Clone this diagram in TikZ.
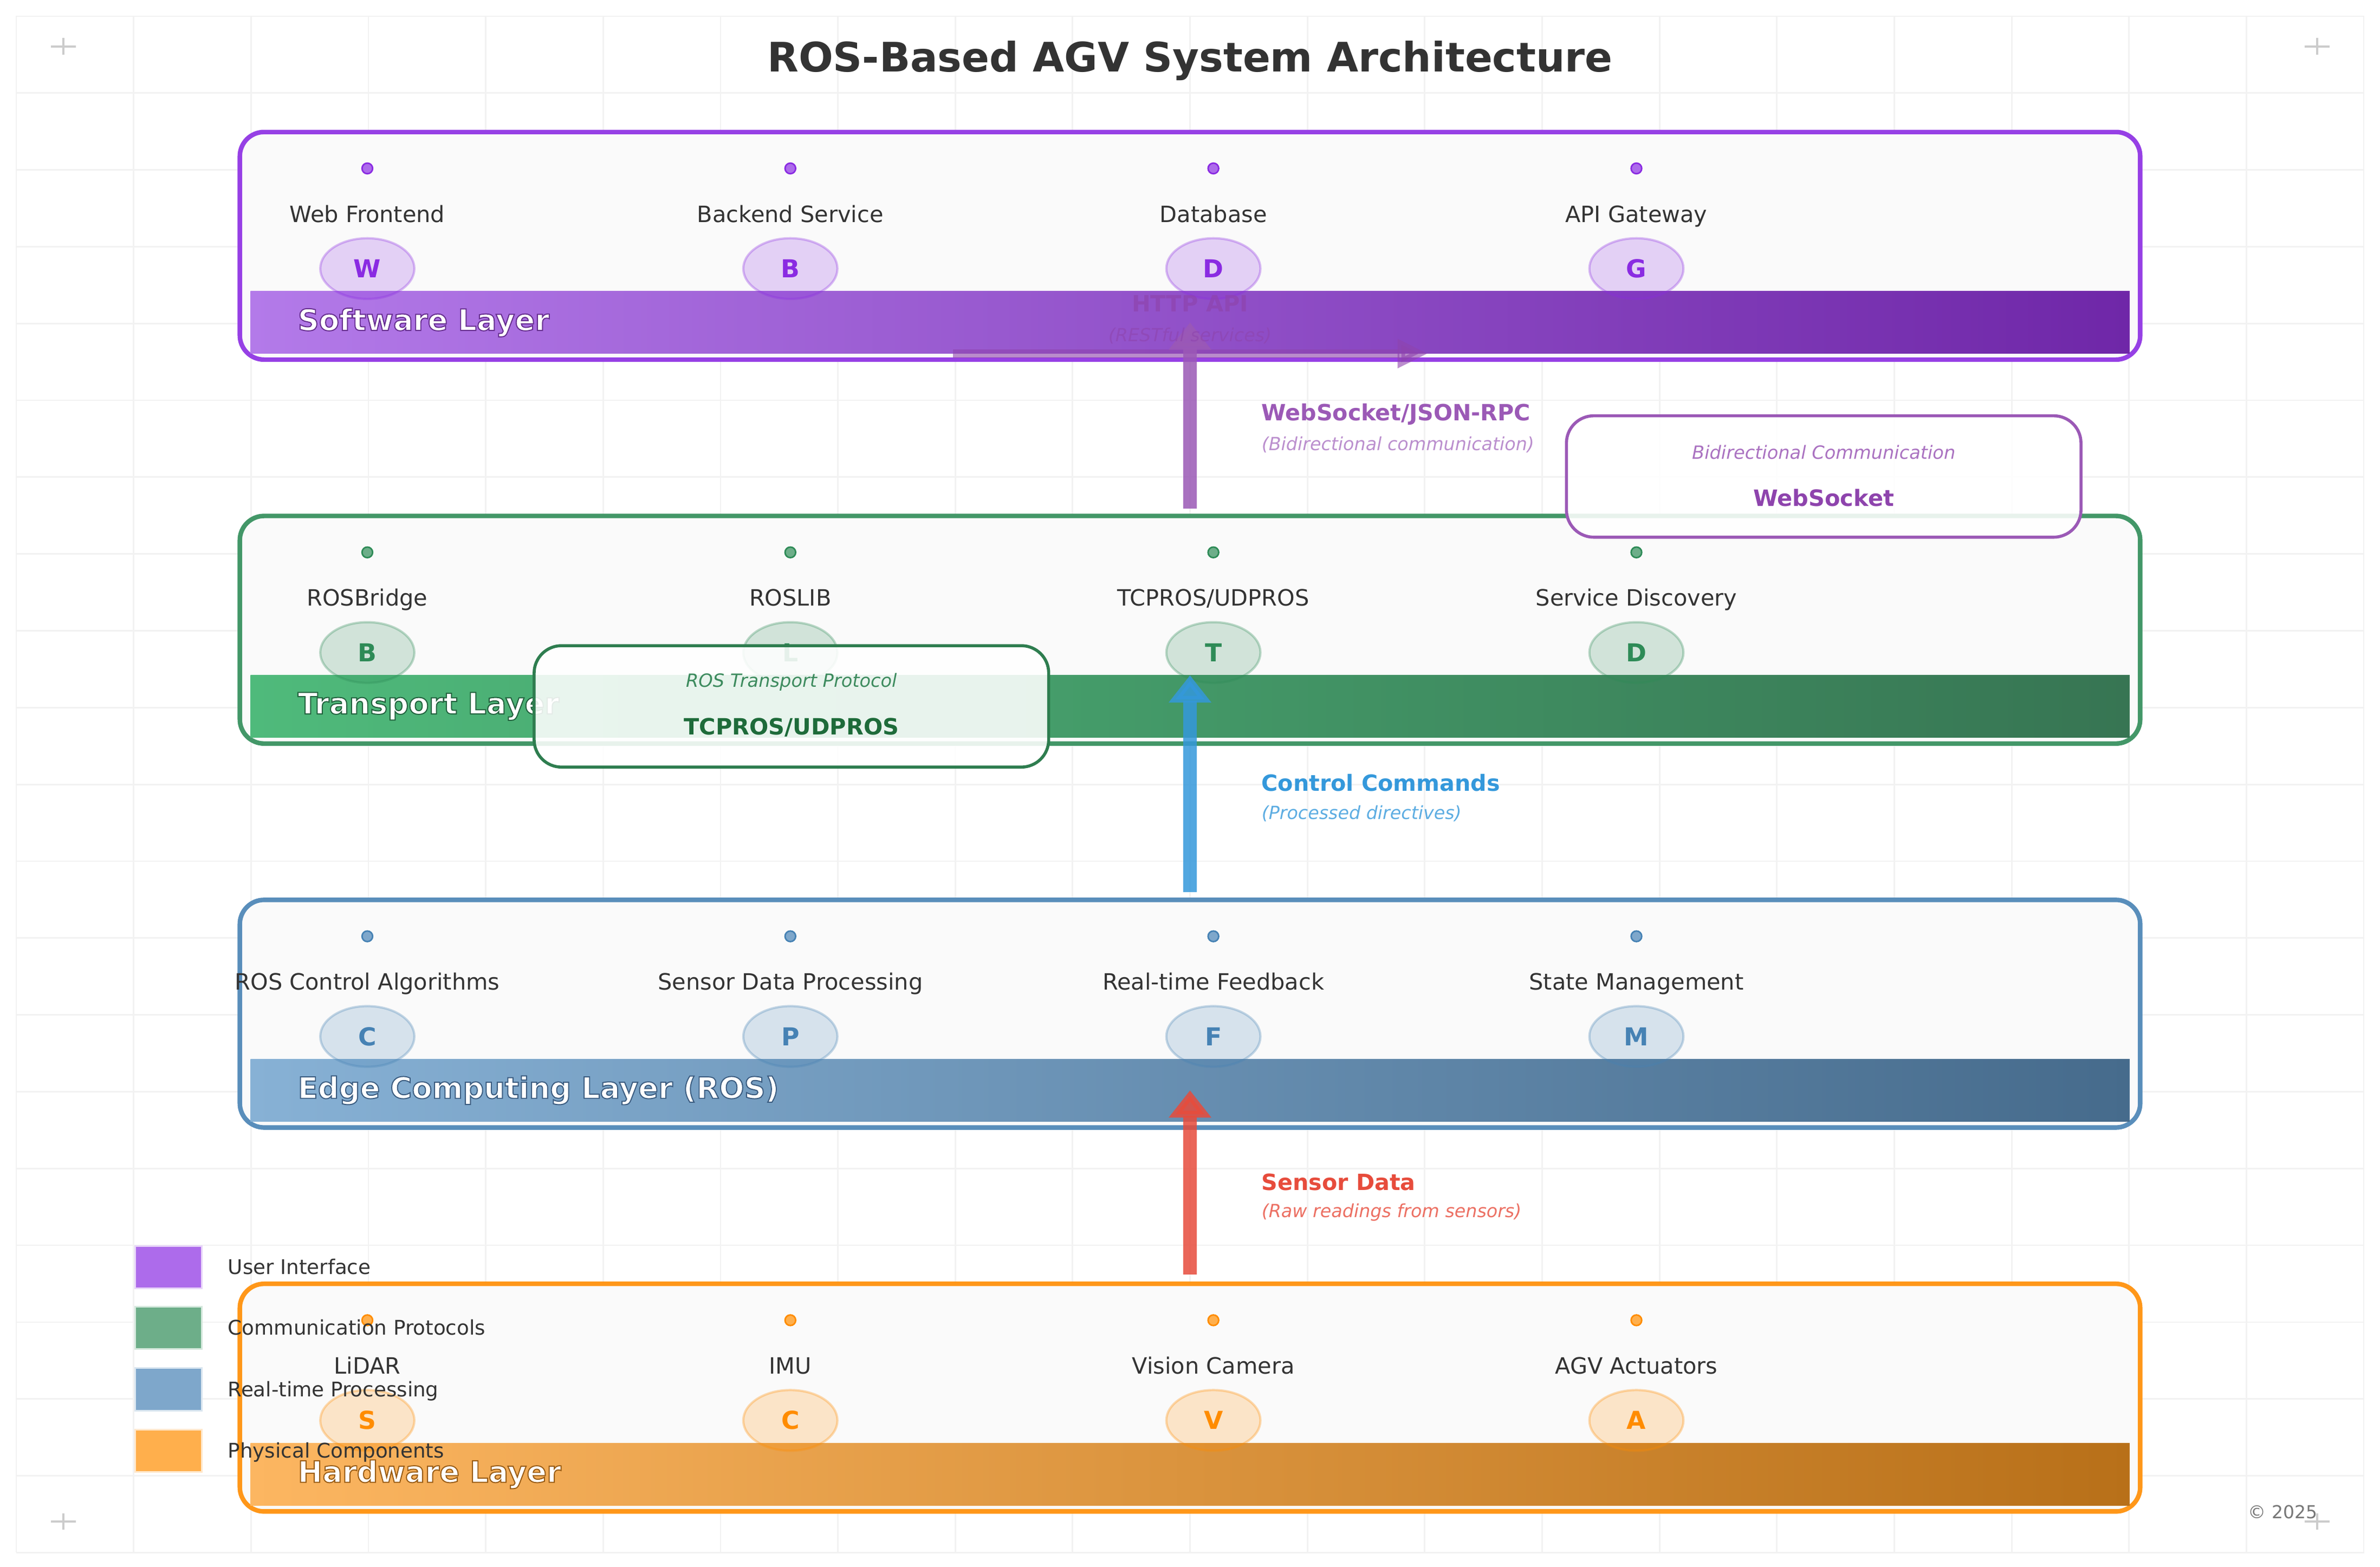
\documentclass[tikz,border=0pt]{standalone}
\usepackage{fontspec}
\setmainfont{DejaVu Sans}
\usepackage{xcolor}
\usepackage{tikz}
\usetikzlibrary{shapes,arrows.meta,positioning,calc}

% Layer colours
\definecolor{swc}{HTML}{8A2BE2}
\definecolor{trc}{HTML}{2E8B57}
\definecolor{edc}{HTML}{4682B4}
\definecolor{hwc}{HTML}{FF8C00}
\definecolor{swl}{HTML}{B37AE9}
\definecolor{swr}{HTML}{6F27A8}
\definecolor{trl}{HTML}{4FBA7B}
\definecolor{trr}{HTML}{377553}
\definecolor{edl}{HTML}{87B1D5}
\definecolor{edr}{HTML}{466B8C}
\definecolor{hwl}{HTML}{FCB661}
\definecolor{hwr}{HTML}{B87019}
% Flow colours
\definecolor{wsc}{HTML}{9B59B6}
\definecolor{wsn}{HTML}{BB8FCE}
\definecolor{ccc}{HTML}{3498DB}
\definecolor{ccn}{HTML}{5DADE2}
\definecolor{sdc}{HTML}{E74C3C}
\definecolor{sdn}{HTML}{EC7063}
\definecolor{http}{HTML}{8E44AD}
\definecolor{calg}{HTML}{2E7D4F}
\definecolor{calgn}{HTML}{3D8B5E}
\definecolor{calgt}{HTML}{1E6B3A}
\definecolor{ink}{HTML}{333333}
\definecolor{panel}{HTML}{FAFAFA}
\definecolor{gridc}{HTML}{F2F2F2}
\definecolor{crossc}{HTML}{CCCCCC}
\definecolor{fine}{HTML}{777777}

% white layer name with a dark rim (stroke colour as r g b)
\newcommand{\layertitle}[2]{\special{pdf:literal direct 2 Tr 0.7 w #1 RG}#2\special{pdf:literal direct 0 Tr}}

\begin{document}
\begin{tikzpicture}[x=1pt, y=1pt, node distance=278.7pt]

% Define block styles
\tikzstyle{layer} = [draw, rectangle, line width=3pt, rounded corners=16pt, fill=panel, minimum width=1252pt, minimum height=150pt, inner sep=0pt, outer sep=0pt]
\tikzstyle{bar} = [rectangle, minimum width=1238pt, minimum height=41pt, inner sep=0pt, outer sep=0pt]
\tikzstyle{bartext} = [anchor=west, inner sep=0pt, text=white, font=\fontsize{19.4}{23}\selectfont\bfseries]
\tikzstyle{dot} = [draw, circle, line width=1pt, inner sep=0pt, minimum size=7pt]
\tikzstyle{item} = [inner sep=0pt, text height=10.8pt, text depth=0pt, text=ink, font=\fontsize{14.8}{17}\selectfont]
\tikzstyle{badge} = [draw, ellipse, line width=1.5pt, inner sep=0pt, minimum width=62pt, minimum height=40pt, fill opacity=0.2, draw opacity=0.3, text opacity=1, font=\fontsize{16.3}{19}\selectfont\bfseries]
\tikzstyle{flow} = [line width=9pt, opacity=0.85, -{Triangle[width=27pt,length=18pt]}]
\tikzstyle{httpflow} = [line width=5.7pt, draw=http, opacity=0.6, -{Triangle[width=18pt,length=20pt]}]
\tikzstyle{flowlabel} = [anchor=west, inner sep=0pt, font=\fontsize{14.7}{18}\selectfont\bfseries]
\tikzstyle{flownote} = [anchor=west, inner sep=0pt, font=\fontsize{11.9}{14}\selectfont\itshape]
\tikzstyle{callout} = [draw, rectangle, line width=2pt, rounded corners=18pt, fill=white, fill opacity=0.88, minimum width=339pt, minimum height=80pt]
\tikzstyle{calloutnote} = [inner sep=0pt, font=\fontsize{12}{14}\selectfont\itshape]
\tikzstyle{callouttitle} = [inner sep=0pt, font=\fontsize{14.8}{17}\selectfont\bfseries]
\tikzstyle{legbox} = [draw, rectangle, line width=1pt, minimum width=44pt, minimum height=28pt]
\tikzstyle{legtext} = [anchor=west, inner sep=0pt, text height=9.6pt, text depth=0pt, text=ink, font=\fontsize{13.3}{16}\selectfont]
\tikzstyle{gridline} = [draw=gridc, line width=1pt]
\tikzstyle{crossline} = [draw=crossc, line width=1.5pt]

% Background
\fill [white] (0,0) rectangle (1568,1032.6);
\useasboundingbox (0,0) rectangle (1568,1032.6);
\begin{scope}[shift={(10.7,9.5)}]
\draw [gridline, xstep=77.33pt, ystep=50.62pt] (0,0) grid (1546.8,1012.6);
\end{scope}
\draw [crossline] (41.7,1002) +(-8.2,0) -- +(8.2,0) +(0,-5.5) -- +(0,5.5);
\draw [crossline] (1526.6,1002) +(-8.2,0) -- +(8.2,0) +(0,-5.5) -- +(0,5.5);
\draw [crossline] (41.7,30) +(-8.2,0) -- +(8.2,0) +(0,-5.5) -- +(0,5.5);
\draw [crossline] (1526.6,30) +(-8.2,0) -- +(8.2,0) +(0,-5.5) -- +(0,5.5);

\node [text=ink, font=\fontsize{26.8}{31}\selectfont\bfseries] (title) at (784,992.6) {ROS-Based AGV System Architecture};

% Software layer
\node [layer, draw=swc!90] (swbox) at (784,870.6) {};
\node [bar, left color=swl, right color=swr] (swbar) at (784,820.1) {};
\node [dot, fill=swc!70, draw=swc] (swd1) at (242,921.6) {};
\node [dot, fill=swc!70, draw=swc, right of=swd1] (swd2) {};
\node [dot, fill=swc!70, draw=swc, right of=swd2] (swd3) {};
\node [dot, fill=swc!70, draw=swc, right of=swd3] (swd4) {};
\node [item] (sw1) at (242,891.6) {Web Frontend};
\node [item, right of=sw1] (sw2) {Backend Service};
\node [item, right of=sw2] (sw3) {Database};
\node [item, right of=sw3] (sw4) {API Gateway};
\node [badge, fill=swc, draw=swc, text=swc] (swb1) at (242,855.6) {W};
\node [badge, fill=swc, draw=swc, text=swc, right of=swb1] (swb2) {B};
\node [badge, fill=swc, draw=swc, text=swc, right of=swb2] (swb3) {D};
\node [badge, fill=swc, draw=swc, text=swc, right of=swb3] (swb4) {G};
\node [bartext] (swname) at (196,820.1) {\layertitle{0.4 0.18 0.56}{Software Layer}};

% Transport layer
\node [layer, draw=trc!90] (trbox) at (784,617.6) {};
\node [bar, left color=trl, right color=trr] (trbar) at (784,567.1) {};
\node [dot, fill=trc!70, draw=trc] (trd1) at (242,668.6) {};
\node [dot, fill=trc!70, draw=trc, right of=trd1] (trd2) {};
\node [dot, fill=trc!70, draw=trc, right of=trd2] (trd3) {};
\node [dot, fill=trc!70, draw=trc, right of=trd3] (trd4) {};
\node [item] (tr1) at (242,638.6) {ROSBridge};
\node [item, right of=tr1] (tr2) {ROSLIB};
\node [item, right of=tr2] (tr3) {TCPROS/UDPROS};
\node [item, right of=tr3] (tr4) {Service Discovery};
\node [badge, fill=trc, draw=trc, text=trc] (trb1) at (242,602.6) {B};
\node [badge, fill=trc, draw=trc, text=trc, right of=trb1] (trb2) {L};
\node [badge, fill=trc, draw=trc, text=trc, right of=trb2] (trb3) {T};
\node [badge, fill=trc, draw=trc, text=trc, right of=trb3] (trb4) {D};
\node [bartext] (trname) at (196,567.1) {\layertitle{0.13 0.38 0.24}{Transport Layer}};

% Edge computing layer
\node [layer, draw=edc!90] (edbox) at (784,364.6) {};
\node [bar, left color=edl, right color=edr] (edbar) at (784,314.1) {};
\node [dot, fill=edc!70, draw=edc] (edd1) at (242,415.6) {};
\node [dot, fill=edc!70, draw=edc, right of=edd1] (edd2) {};
\node [dot, fill=edc!70, draw=edc, right of=edd2] (edd3) {};
\node [dot, fill=edc!70, draw=edc, right of=edd3] (edd4) {};
\node [item] (ed1) at (242,385.6) {ROS Control Algorithms};
\node [item, right of=ed1] (ed2) {Sensor Data Processing};
\node [item, right of=ed2] (ed3) {Real-time Feedback};
\node [item, right of=ed3] (ed4) {State Management};
\node [badge, fill=edc, draw=edc, text=edc] (edb1) at (242,349.6) {C};
\node [badge, fill=edc, draw=edc, text=edc, right of=edb1] (edb2) {P};
\node [badge, fill=edc, draw=edc, text=edc, right of=edb2] (edb3) {F};
\node [badge, fill=edc, draw=edc, text=edc, right of=edb3] (edb4) {M};
\node [bartext] (edname) at (196,314.1) {\layertitle{0.23 0.36 0.5}{Edge Computing Layer (ROS)}};

% Hardware layer
\node [layer, draw=hwc!90] (hwbox) at (784,111.6) {};
\node [bar, left color=hwl, right color=hwr] (hwbar) at (784,61.1) {};
\node [dot, fill=hwc!70, draw=hwc] (hwd1) at (242,162.6) {};
\node [dot, fill=hwc!70, draw=hwc, right of=hwd1] (hwd2) {};
\node [dot, fill=hwc!70, draw=hwc, right of=hwd2] (hwd3) {};
\node [dot, fill=hwc!70, draw=hwc, right of=hwd3] (hwd4) {};
\node [item] (hw1) at (242,132.6) {LiDAR};
\node [item, right of=hw1] (hw2) {IMU};
\node [item, right of=hw2] (hw3) {Vision Camera};
\node [item, right of=hw3] (hw4) {AGV Actuators};
\node [badge, fill=hwc, draw=hwc, text=hwc] (hwb1) at (242,96.6) {S};
\node [badge, fill=hwc, draw=hwc, text=hwc, right of=hwb1] (hwb2) {C};
\node [badge, fill=hwc, draw=hwc, text=hwc, right of=hwb2] (hwb3) {V};
\node [badge, fill=hwc, draw=hwc, text=hwc, right of=hwb3] (hwb4) {A};
\node [bartext] (hwname) at (196,61.1) {\layertitle{0.6 0.36 0.08}{Hardware Layer}};

% Connections
\coordinate (httpa) at ($(swbar.south)+(-156,0)$);
\coordinate (httpb) at ($(swbar.south)+(156.7,0)$);
\draw [httpflow] (httpa) -- (httpb);
\draw [flow, draw=wsc] ($(trbox.north)+(0,5)$) -- (swbar.center);
\draw [flow, draw=ccc] ($(edbox.north)+(0,5)$) -- (trbar.north);
\draw [flow, draw=sdc] ($(hwbox.north)+(0,6)$) -- (edbar.center);
\node [text=http, text opacity=0.7, font=\fontsize{14.8}{17}\selectfont\bfseries] (httplab) at (784,832.7) {HTTP API};
\node [text=http, text opacity=0.6, font=\fontsize{11.9}{14}\selectfont\itshape] (httpnote) at (784,811.3) {(RESTful services)};
\node [flowlabel, text=wsc] (wslab) at (831,759.6) {WebSocket/JSON-RPC};
\node [flownote, text=wsn] (wsnote) at (831,739.6) {(Bidirectional communication)};
\node [flowlabel, text=ccc] (cclab) at (831,516.6) {Control Commands};
\node [flownote, text=ccn] (ccnote) at (831,496.6) {(Processed directives)};
\node [flowlabel, text=sdc] (sdlab) at (831,253.6) {Sensor Data};
\node [flownote, text=sdn] (sdnote) at (831,233.6) {(Raw readings from sensors)};

% Callouts
\node [callout, draw=wsc] (wscall) at (1201.5,718.6) {};
\node [calloutnote, text=wsc!85] (wscalln) at ($(wscall.center)+(0,16)$) {Bidirectional Communication};
\node [callouttitle, text=http] (wscallt) at ($(wscall.center)+(0,-14)$) {WebSocket};
\node [callout, draw=calg] (roscall) at (521.4,567.1) {};
\node [calloutnote, text=calgn] (roscalln) at ($(roscall.center)+(0,16)$) {ROS Transport Protocol};
\node [callouttitle, text=calgt] (roscallt) at ($(roscall.center)+(0,-14)$) {TCPROS/UDPROS};

% Legend
\node [legbox, fill=swc!70, draw=swc!20] (leg1) at (111,197.6) {};
\node [legbox, fill=trc!70, draw=trc!20] (leg2) at (111,157.6) {};
\node [legbox, fill=edc!70, draw=edc!20] (leg3) at (111,117.1) {};
\node [legbox, fill=hwc!70, draw=hwc!20] (leg4) at (111,76.6) {};
\node [legtext] (legt1) at (150,197.6) {User Interface};
\node [legtext] (legt2) at (150,157.6) {Communication Protocols};
\node [legtext] (legt3) at (150,117.1) {Real-time Processing};
\node [legtext] (legt4) at (150,76.6) {Physical Components};

\node [anchor=east, inner sep=0pt, text=fine, font=\fontsize{11.8}{14}\selectfont] (copy) at (1527,36.4) {© 2025};

\end{tikzpicture}
\end{document}
